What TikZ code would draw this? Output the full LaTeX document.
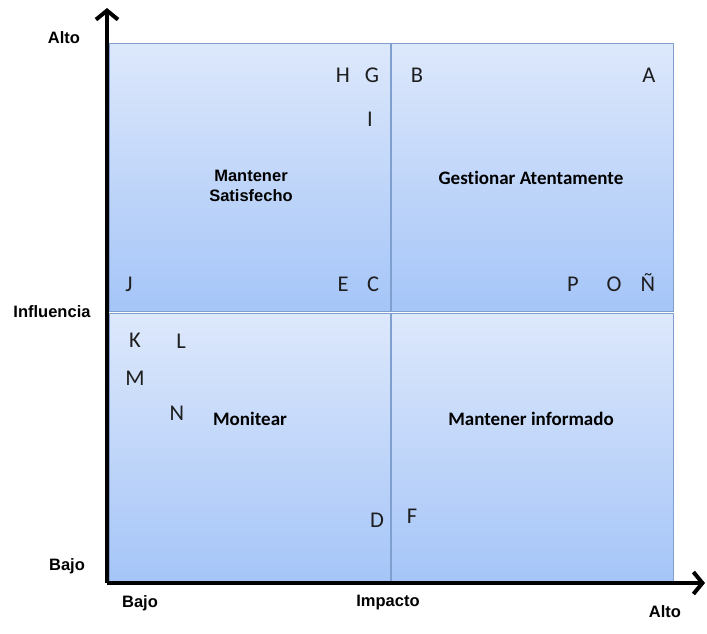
\documentclass[tikz,border=0pt]{standalone}
\usepackage{fontspec}
\setmainfont[Ligatures=NoCommon]{Carlito}
\newfontfamily\axisfont{Liberation Sans}
\usetikzlibrary{arrows.meta,shadows}
\definecolor{boxtop}{HTML}{DDE8FB}
\definecolor{boxbot}{HTML}{A5C5F8}
\definecolor{boxedge}{HTML}{7F9FCF}
\definecolor{letterc}{HTML}{1E1E1E}
\tikzset{
  quad/.style={draw=boxedge, line width=0.8pt, top color=boxtop, bottom color=boxbot,
    drop shadow={opacity=0.35, shadow xshift=0.8pt, shadow yshift=-1.2pt}},
  axislabel/.style={font=\axisfont\bfseries\fontsize{16.5}{19}\selectfont, inner sep=0pt},
  stake/.style={font=\fontsize{22.5}{26}\selectfont, text=letterc, inner sep=0pt},
  title/.style={font=\bfseries\fontsize{19}{22}\selectfont, align=center, inner sep=0pt},
  sanstitle/.style={font=\axisfont\bfseries\fontsize{16.5}{20}\selectfont, align=center, inner sep=0pt},
  axisline/.style={line width=4pt, -{Straight Barb[length=9pt,width=22pt,line width=4pt]}},
}
\begin{document}
\begin{tikzpicture}[x=1pt,y=-1pt]
\useasboundingbox (0,0) rectangle (707,633);
% four quadrants
\path[quad] (109,43) rectangle (390,311);
\path[quad] (391,43) rectangle (673,311);
\path[quad] (109,313) rectangle (390,582);
\path[quad] (391,313) rectangle (673,582);
% axes
\coordinate (origin) at (107,583);
\coordinate (ytip) at (107,8);
\coordinate (xtip) at (705,583);
\draw[axisline] (origin) -- (ytip);
\draw[axisline] (origin) -- (xtip);
% axis labels
\node[axislabel] (alto1) at (64,38) {Alto};
\node[axislabel] (infl) at (52,312) {Influencia};
\node[axislabel] (bajo1) at (67,566) {Bajo};
\node[axislabel] (bajo2) at (140,603) {Bajo};
\node[axislabel] (impacto) at (388,603) {Impacto};
\node[axislabel] (alto2) at (665,612) {Alto};
% quadrant titles
\node[sanstitle] (q1) at (251,186) {Mantener\\Satisfecho};
\node[title] (q2) at (531,178) {Gestionar Atentamente};
\node[title] (q3) at (250,419) {Monitear};
\node[title] (q4) at (531,419) {Mantener informado};
% stakeholders
\node[stake] (H) at (343,75) {H};
\node[stake] (G) at (372,75) {G};
\node[stake] (B) at (417,75) {B};
\node[stake] (A) at (649,75) {A};
\node[stake] (I) at (370,119) {I};
\node[stake] (J) at (129,284) {J};
\node[stake] (E) at (343,284) {E};
\node[stake] (C) at (373,284) {C};
\node[stake] (P) at (573,284) {P};
\node[stake] (O) at (614,284) {O};
\node[stake] (Nt) at (648,283) {Ñ};
\node[stake] (K) at (135,340) {K};
\node[stake] (L) at (181,341) {L};
\node[stake] (M) at (135,378) {M};
\node[stake] (N) at (177,413) {N};
\node[stake] (D) at (377,520) {D};
\node[stake] (F) at (412,516) {F};
\end{tikzpicture}
\end{document}
